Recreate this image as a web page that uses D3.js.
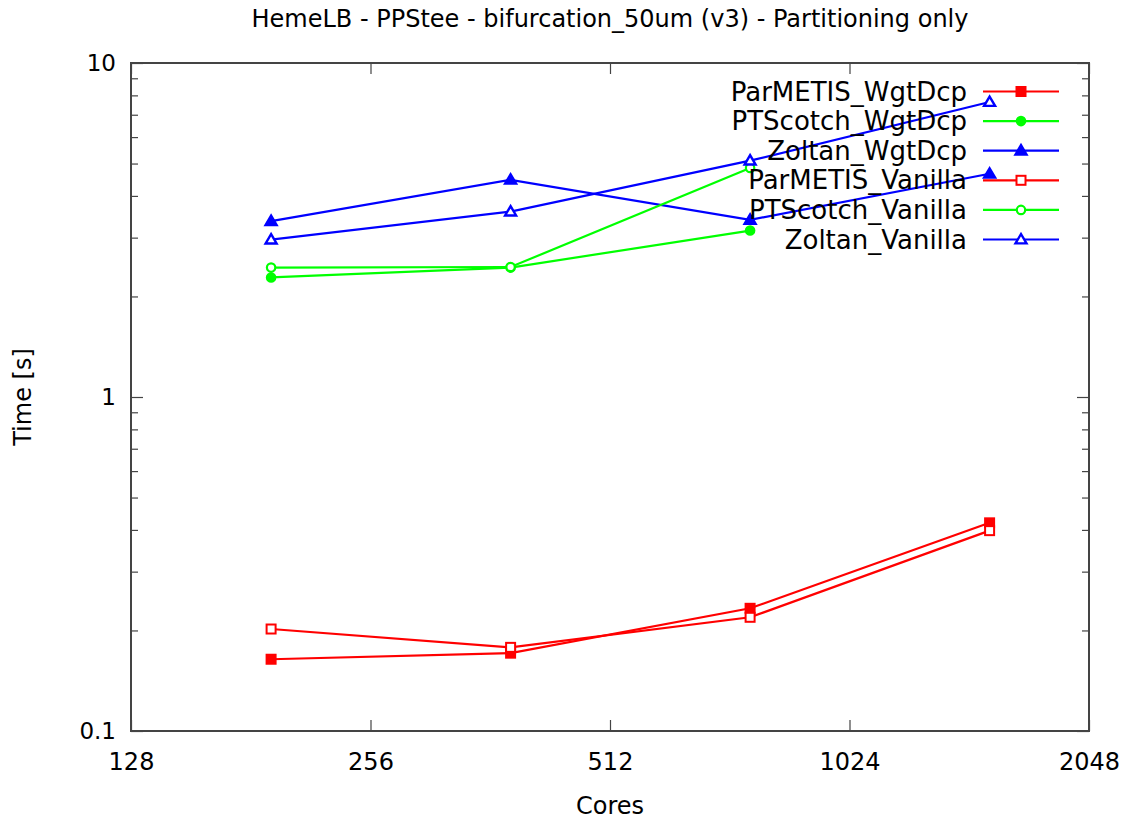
<!DOCTYPE html>
<html>
<head>
<meta charset="utf-8">
<script src="https://cdn.jsdelivr.net/npm/d3@7"></script>
<style>
  body { margin: 0; background: #fff; }
  text { font-family: "DejaVu Sans", sans-serif; }
</style>
</head>
<body>
<script>
// Datos
const cores = [192, 384, 768, 1536];
const parmetisWgt = [0.164, 0.171, 0.233, 0.420];
const ptscotchWgt = [2.28, 2.44, 3.15];
const zoltanWgt = [3.36, 4.47, 3.39, 4.66];
const parmetisVan = [0.202, 0.178, 0.219, 0.398];
const ptscotchVan = [2.44, 2.45, 4.85];
const zoltanVan = [2.96, 3.59, 5.10, 7.64];

const xTicks = [128, 256, 512, 1024, 2048];
const yTicks = [0.1, 1, 10];

const series = [
  { name: "ParMETIS_WgtDcp", values: parmetisWgt, color: "#ff0000", shape: "square", filled: true },
  { name: "PTScotch_WgtDcp", values: ptscotchWgt, color: "#00ff00", shape: "circle", filled: true },
  { name: "Zoltan_WgtDcp", values: zoltanWgt, color: "#0000ff", shape: "triangle", filled: true },
  { name: "ParMETIS_Vanilla", values: parmetisVan, color: "#ff0000", shape: "square", filled: false },
  { name: "PTScotch_Vanilla", values: ptscotchVan, color: "#00ff00", shape: "circle", filled: false },
  { name: "Zoltan_Vanilla", values: zoltanVan, color: "#0000ff", shape: "triangle", filled: false }
];

const width = 1129, height = 822;
const plotL = 131, plotR = 1089, plotT = 63, plotB = 731;
const condensed = "'DejaVu Sans Condensed', 'DejaVu Sans', sans-serif";

const svg = d3.select("body").append("svg")
  .attr("width", width).attr("height", height);

const x = d3.scaleLog().base(2).domain([128, 2048]).range([plotL, plotR]);
const y = d3.scaleLog().domain([0.1, 10]).range([plotB, plotT]);

// ticks menores del eje y (2..9 en cada década)
const yMinor = [];
[0.1, 1].forEach(d => { for (let k = 2; k <= 9; k++) yMinor.push(d * k); });

const axisColor = "#444";
const g = svg.append("g");

// ejes con d3.axis, ticks hacia dentro
const xAxisG = g.append("g").attr("transform", `translate(0,${plotB})`)
  .call(d3.axisBottom(x).tickValues(xTicks).tickSize(-11).tickFormat(d3.format("d")).tickPadding(22))
  .call(a => a.select(".domain").remove());
g.append("g").attr("transform", `translate(0,${plotT})`)
  .call(d3.axisTop(x).tickValues(xTicks).tickSize(-11).tickFormat(""))
  .call(a => a.select(".domain").remove());
const yAxisG = g.append("g").attr("transform", `translate(${plotL},0)`)
  .call(d3.axisLeft(y).tickValues(yTicks).tickSize(-12).tickFormat(d => d === 0.1 ? "0.1" : d3.format("d")(d)).tickPadding(15))
  .call(a => a.select(".domain").remove());
g.append("g").attr("transform", `translate(${plotR},0)`)
  .call(d3.axisRight(y).tickValues(yTicks).tickSize(-12).tickFormat(""))
  .call(a => a.select(".domain").remove());
g.append("g").attr("transform", `translate(${plotL},0)`)
  .call(d3.axisLeft(y).tickValues(yMinor).tickSize(-7).tickFormat(""))
  .call(a => a.select(".domain").remove());
g.append("g").attr("transform", `translate(${plotR},0)`)
  .call(d3.axisRight(y).tickValues(yMinor).tickSize(-7).tickFormat(""))
  .call(a => a.select(".domain").remove());

g.selectAll(".tick line").attr("stroke", axisColor).attr("stroke-width", 1.2);
g.selectAll(".tick text").attr("fill", "#000").attr("font-size", 24);
xAxisG.selectAll(".tick text").attr("font-family", condensed);
yAxisG.selectAll(".tick text").attr("font-size", 23);

// marco
svg.append("rect")
  .attr("x", plotL).attr("y", plotT)
  .attr("width", plotR - plotL).attr("height", plotB - plotT)
  .attr("fill", "none").attr("stroke", axisColor).attr("stroke-width", 2);

// títulos
svg.append("text").attr("x", 610).attr("y", 27).attr("text-anchor", "middle")
  .attr("font-size", 24).text("HemeLB - PPStee - bifurcation_50um (v3) - Partitioning only");
svg.append("text").attr("x", 610).attr("y", 814).attr("text-anchor", "middle")
  .attr("font-size", 24).attr("font-family", condensed).text("Cores");
svg.append("text").attr("transform", "translate(31,397) rotate(-90)").attr("text-anchor", "middle")
  .attr("font-size", 24).attr("font-family", condensed).text("Time [s]");

// marcadores
function drawMarker(sel, s, cx, cy) {
  const fill = s.filled ? s.color : "#fff";
  if (s.shape === "square") {
    sel.append("rect").attr("x", cx - 4.5).attr("y", cy - 4.5).attr("width", 9).attr("height", 9)
      .attr("fill", fill).attr("stroke", s.color).attr("stroke-width", 2);
  } else if (s.shape === "circle") {
    sel.append("circle").attr("cx", cx).attr("cy", cy).attr("r", 4.2)
      .attr("fill", fill).attr("stroke", s.color).attr("stroke-width", 2.2);
  } else {
    const h = 5.5;
    sel.append("path").attr("d", `M${cx},${cy - h}L${cx + h},${cy + h * 0.7}L${cx - h},${cy + h * 0.7}Z`)
      .attr("fill", fill).attr("stroke", s.color).attr("stroke-width", 2.4).attr("stroke-linejoin", "miter");
  }
}

const line = d3.line().x((d, i) => x(cores[i])).y(d => y(d));

series.forEach(s => {
  const gs = svg.append("g");
  gs.append("path").attr("d", line(s.values))
    .attr("fill", "none").attr("stroke", s.color).attr("stroke-width", 2.2);
  s.values.forEach((v, i) => drawMarker(gs, s, x(cores[i]), y(v)));
});

// leyenda
const legend = svg.append("g");
series.forEach((s, i) => {
  const ly = 91.5 + i * 29.6;
  legend.append("text").attr("x", 967).attr("y", ly + 9).attr("text-anchor", "end")
    .attr("font-size", 26).text(s.name);
  legend.append("line").attr("x1", 983).attr("x2", 1059).attr("y1", ly).attr("y2", ly)
    .attr("stroke", s.color).attr("stroke-width", 2.2);
  drawMarker(legend, s, 1021, ly);
});
</script>
</body>
</html>
